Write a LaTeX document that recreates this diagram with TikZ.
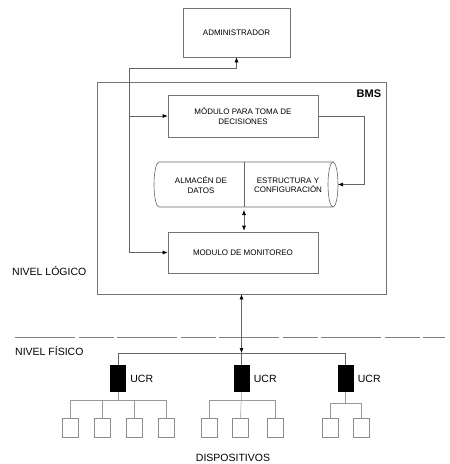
\documentclass[tikz,border=0pt]{standalone}
\usepackage{fontspec}
\setmainfont{Liberation Sans}
\usetikzlibrary{positioning,arrows.meta}
\tikzset{
  module box/.style={
    draw=black!55, line width=.6pt,
    rectangle, align=center,
    inner sep=0pt,
    font=\fontsize{8}{9.5}\selectfont
  },
  store text/.style={
    align=center, inner sep=0pt,
    font=\fontsize{8}{9.5}\selectfont
  },
  level label/.style={
    anchor=west, inner sep=0pt,
    font=\fontsize{10.5}{12}\selectfont
  },
  link/.style={
    draw=black!60, line width=.6pt,
    >={Latex[length=5pt,width=4pt,black]}
  },
  level line/.style={
    draw=black!50, line width=.6pt,
    dash pattern=on 60pt off 4pt on 35pt off 3pt
  },
  ucr node/.style={
    fill=black, rectangle,
    inner sep=0pt,
    minimum width=16pt, minimum height=27pt
  },
  device node/.style={
    draw=black!45, line width=.5pt, rectangle,
    inner sep=0pt,
    minimum width=16pt, minimum height=19pt
  },
  device link/.style={
    draw=black!40, line width=.5pt
  },
}

\begin{document}
\begin{tikzpicture}[x=1pt,y=-1pt]
  \useasboundingbox (0,0) rectangle (450,464);

  \node[module box, minimum width=107pt, minimum height=49pt] (adm) at (236.5,32.5) {ADMINISTRADOR};
  \node[module box, minimum width=289pt, minimum height=212pt] (bms) at (241.5,188) {};
  \node[anchor=north east, inner sep=0pt, font=\fontsize{11}{13}\selectfont\bfseries]
    (bmslabel) at ([xshift=-5pt,yshift=-8pt]bms.north east) {BMS};
  \node[module box, minimum width=150pt, minimum height=42pt] (dec) at (243,116)
    {MÓDULO PARA TOMA DE\\DECISIONES};
  \node[module box, minimum width=150pt, minimum height=41pt] (mon) at (243,252.5)
    {MODULO DE MONITOREO};

  \draw[link] (333,162) -- (159,162)
    arc[start angle=90, end angle=270, x radius=5pt, y radius=22.5pt] -- (333,207);
  \draw[link] (333,184.5) ellipse[x radius=5pt, y radius=22.5pt];
  \draw[link] (244,162) -- (244,207);
  \node[store text] (alm) at (201,185) {ALMACÉN DE\\DATOS};
  \node[store text] (est) at (288,185) {ESTRUCTURA Y\\CONFIGURACIÓN};
  \coordinate (almR) at (338,184.5);
  \coordinate (almB) at (244,207);

  \coordinate (fb) at (129,68);
  \draw[link,->] (fb) -| (adm.south);
  \draw[link,->] (fb) |- (mon.west);
  \draw[link,->] (fb |- dec.west) -- (dec.west);
  \draw[link,->] (dec.east) -- ++(46,0) |- (almR);
  \draw[link,<->] ([yshift=-3pt]almB) -- ([yshift=1pt]mon.north -| almB);

  \node[level label] (logico) at (12,271) {NIVEL LÓGICO};
  \draw[level line] (15,337) -- (445,337);
  \node[level label] (fisico) at (15,351) {NIVEL FÍSICO};

  \coordinate (bus) at (241.5,353);
  \draw[link,<->] (bms.south) -- (bus);

  \node[ucr node] (ucr1) at (118,378.5) {};
  \node[ucr node] (ucr2) at (241.5,378.5) {};
  \node[ucr node] (ucr3) at (345.5,378.5) {};
  \foreach \n in {1,2,3}
    \node[level label, right=4pt of ucr\n] (ucrlabel\n) {UCR};
  \draw[link] (ucr1.north) -- (ucr1 |- bus) -- (ucr3 |- bus) -- (ucr3.north);
  \draw[link] (bus) -- (ucr2.north);

  \foreach \n/\x in {1/70.5,2/102,3/134,4/166,5/209,6/240.5,7/275,8/330,9/361}
    \node[device node] (dev\n) at (\x,428) {};
  \coordinate (br1) at (0,400);
  \coordinate (br3) at (0,403);
  \draw[device link] (ucr1.south) -- (ucr1 |- br1);
  \draw[device link] (dev1 |- br1) -- (dev4 |- br1);
  \foreach \n in {1,...,4}
    \draw[device link] (dev\n.north) -- (dev\n |- br1);
  \draw[device link] (ucr2.south) -- (dev6.north);
  \draw[device link] (dev5 |- br1) -- (dev7 |- br1);
  \foreach \n in {5,7}
    \draw[device link] (dev\n.north) -- (dev\n |- br1);
  \draw[device link] (ucr3.south) -- (ucr3 |- br3);
  \draw[device link] (dev8 |- br3) -- (dev9 |- br3);
  \foreach \n in {8,9}
    \draw[device link] (dev\n.north) -- (dev\n |- br3);

  \node[level label, anchor=center] (disp) at (233,458) {DISPOSITIVOS};
\end{tikzpicture}
\end{document}
